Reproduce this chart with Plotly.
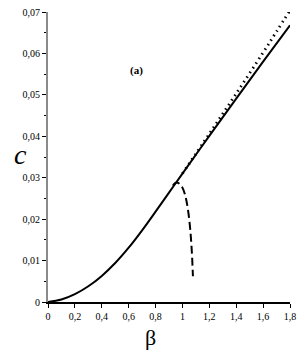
import plotly.graph_objects as go

# Solid curve
beta_solid = [0, 0.1, 0.2, 0.3, 0.4, 0.5, 0.6, 0.7, 0.8, 0.9, 1.0, 1.2, 1.4, 1.6, 1.8]
c_solid = [0, 0.0006, 0.0019, 0.0038, 0.0063, 0.0094, 0.0131, 0.0173, 0.0218, 0.0264, 0.0310, 0.0401, 0.0491, 0.0580, 0.0668]

# Dotted curve (diverges above solid)
beta_dot = [1.0, 1.2, 1.4, 1.6, 1.7, 1.8]
c_dot = [0.0310, 0.0406, 0.0503, 0.0602, 0.0653, 0.0704]

# Dashed branch
beta_dash = [0.929, 0.945, 0.965, 0.985, 1.0, 1.02, 1.04, 1.058, 1.07, 1.078]
c_dash = [0.0281, 0.0287, 0.0288, 0.0283, 0.0276, 0.0258, 0.0225, 0.0175, 0.0120, 0.0062]

x_ticks = [0, 0.2, 0.4, 0.6, 0.8, 1.0, 1.2, 1.4, 1.6, 1.8]
x_ticktext = ["0", "0,2", "0,4", "0,6", "0,8", "1", "1,2", "1,4", "1,6", "1,8"]
y_ticks = [0, 0.01, 0.02, 0.03, 0.04, 0.05, 0.06, 0.07]
y_ticktext = ["0", "0,01", "0,02", "0,03", "0,04", "0,05", "0,06", "0,07"]

SERIF = "Liberation Serif, serif"

fig = go.Figure()
fig.add_trace(go.Scatter(x=beta_dot, y=c_dot, mode="lines",
                         line=dict(color="black", width=2.8, dash="1.5px,4px"),
                         line_shape="spline", cliponaxis=False))
fig.add_trace(go.Scatter(x=beta_solid, y=c_solid, mode="lines",
                         line=dict(color="black", width=2), line_shape="spline",
                         cliponaxis=False))
fig.add_trace(go.Scatter(x=beta_dash, y=c_dash, mode="lines",
                         line=dict(color="black", width=2, dash="8px,4px"),
                         line_shape="spline", cliponaxis=False))

tickfont = dict(family=SERIF, size=10, color="black")
fig.update_layout(
    width=300, height=354,
    margin=dict(l=48, r=10, t=12, b=52, autoexpand=False),
    plot_bgcolor="white", paper_bgcolor="white",
    showlegend=False,
    font=dict(family=SERIF, color="black"),
    xaxis=dict(range=[0, 1.8], tickvals=x_ticks, ticktext=x_ticktext,
               showgrid=False, zeroline=False, showline=True,
               linecolor="black", linewidth=1.5, automargin=False,
               ticks="outside", ticklen=4, tickcolor="black", tickwidth=1,
               tickfont=tickfont),
    yaxis=dict(range=[0, 0.07], tickvals=y_ticks, ticktext=y_ticktext,
               showgrid=False, zeroline=False, showline=True,
               linecolor="#8a8a8a", linewidth=2, automargin=False,
               ticks="outside", ticklen=4, tickcolor="black", tickwidth=1,
               tickfont=tickfont,
               minor=dict(dtick=0.005, ticks="outside", ticklen=2, tickcolor="black")),
    annotations=[
        dict(x=0.66, y=0.056, xref="x", yref="y", text="<b>(a)</b>",
             showarrow=False, font=dict(family=SERIF, size=11, color="black")),
        dict(x=0, y=0.0355, xref="x", yref="y", xanchor="center", yanchor="middle",
             text="<i>c</i>", showarrow=False, xshift=-28,
             font=dict(family=SERIF, size=28, color="black")),
        dict(x=0.76, y=0, xref="x", yref="y", xanchor="center", yanchor="middle",
             text="β", showarrow=False, yshift=-35,
             font=dict(family=SERIF, size=22, color="black")),
    ],
)

fig.write_html("out.html", config={"displayModeBar": False},
               post_script="document.body.style.margin='0';document.body.style.padding='0';")
